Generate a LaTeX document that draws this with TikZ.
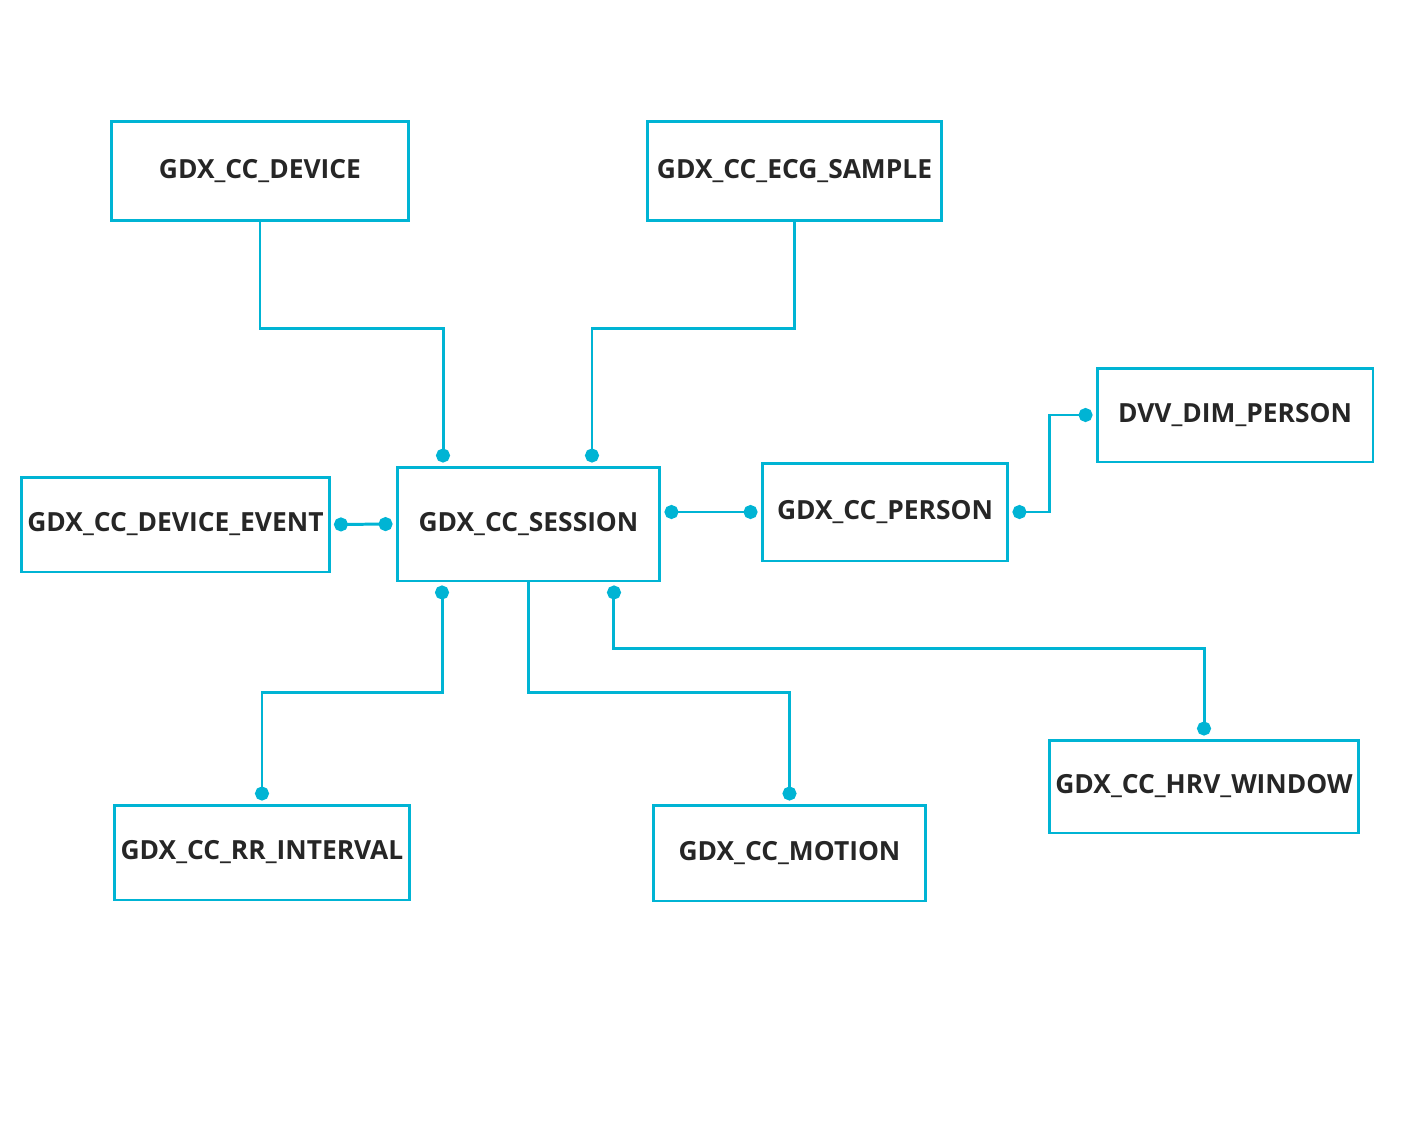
\documentclass[tikz,border=0pt]{standalone}
\usepackage{fontspec}
\setmainfont{Open Sans}
\usetikzlibrary{arrows.meta}
\definecolor{tblue}{RGB}{0,180,212}
\tikzset{
  tbl/.style={draw=tblue,line width=1.7pt,fill=white,font=\bfseries\fontsize{15}{18}\selectfont,text=black!85},
  link/.style={draw=tblue,line width=1.7pt,{Circle[length=0.28cm]}-{Circle[length=0.28cm]},shorten <=0.06cm,shorten >=0.06cm},
  linkr/.style={draw=tblue,line width=1.7pt,-{Circle[length=0.28cm]},shorten >=0.06cm}
}
\begin{document}
\begin{tikzpicture}[x=0.02cm,y=-0.02cm]
  \useasboundingbox (0,0) rectangle (1402,1122);
  \node[tbl,minimum width=5.96cm,minimum height=2cm] (dev) at (260,171) {GDX\_CC\_DEVICE};
  \node[tbl,minimum width=5.9cm,minimum height=2cm] (ecg) at (794.5,171) {GDX\_CC\_ECG\_SAMPLE};
  \node[tbl,minimum width=5.52cm,minimum height=1.88cm] (dvv) at (1235,415) {DVV\_DIM\_PERSON};
  \node[tbl,minimum width=5.78cm,minimum height=1.9cm] (dev-ev) at (175.5,524.5) {GDX\_CC\_DEVICE\_EVENT};
  \node[tbl,minimum width=5.26cm,minimum height=2.28cm] (ses) at (528.5,524) {GDX\_CC\_SESSION};
  \node[tbl,minimum width=4.92cm,minimum height=1.96cm] (per) at (885,512) {GDX\_CC\_PERSON};
  \node[tbl,minimum width=5.72cm,minimum height=1.9cm] (rr) at (262,852.5) {GDX\_CC\_RR\_INTERVAL};
  \node[tbl,minimum width=5.46cm,minimum height=1.92cm] (mot) at (789.5,853) {GDX\_CC\_MOTION};
  \node[tbl,minimum width=5.84cm,minimum height=1.86cm] (hrv) at (1204,786.5) {GDX\_CC\_HRV\_WINDOW};

  % tables above the session
  \draw[linkr] (dev.south) -- ++(0,106) -| ([xshift=-1.71cm]ses.north);
  \draw[linkr] (ecg.south) -- ++(0,106) -| ([xshift=1.27cm]ses.north);
  % side links
  \draw[link] (dev-ev.east) -- (ses.west);
  \draw[link] (ses.east |- per.west) -- (per.west);
  \draw[link] (per.east) -- ++(40,0) |- (dvv.west);
  % tables below the session
  \draw[link] ([xshift=-1.73cm]ses.south) -- ++(0,110) -| (rr.north);
  \draw[linkr] (ses.south) -- ++(0,110) -| (mot.north);
  \draw[link] ([xshift=1.71cm]ses.south) -- ++(0,66) -| (hrv.north);
\end{tikzpicture}
\end{document}
